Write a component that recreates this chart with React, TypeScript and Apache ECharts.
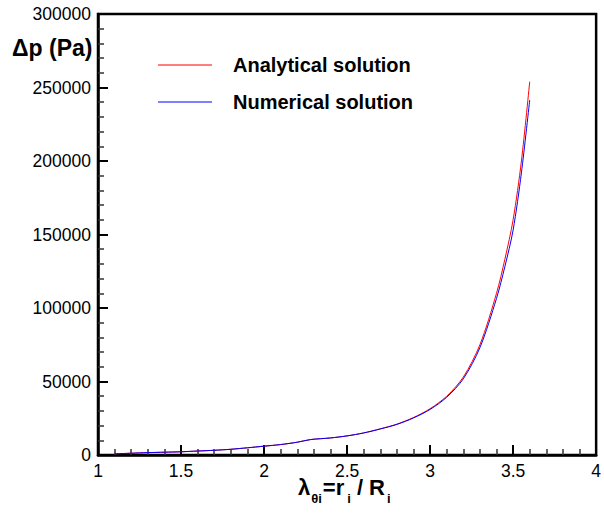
import React, { useEffect, useRef } from "react";
import * as echarts from "echarts";

const lambdaA = [1.1, 1.2, 1.3, 1.4, 1.5, 1.6, 1.7, 1.8, 1.9, 2.0, 2.1, 2.2, 2.28, 2.4, 2.5, 2.6, 2.7, 2.8, 2.9, 3.0, 3.1, 3.2, 3.3, 3.4, 3.45, 3.5, 3.55, 3.6];
const analytical = [800, 1200, 1600, 1900, 2200, 2700, 3200, 3900, 4900, 6000, 7100, 8700, 10500, 11600, 13000, 15000, 17800, 21000, 25500, 31500, 40000, 53000, 75000, 110000, 133000, 160000, 200000, 254000];
const numerical = [800, 1200, 1600, 1900, 2200, 2700, 3200, 3900, 4900, 6000, 7100, 8700, 10500, 11600, 13000, 15000, 17700, 20800, 25200, 31000, 39300, 51800, 73000, 106500, 128000, 153000, 192000, 241500];

const xTicks = { min: 1, max: 4, interval: 0.5 };
const yTicks = { min: 0, max: 300000, interval: 50000 };

const FONT = "'Liberation Sans', Arial, sans-serif";

export default function App() {
  const ref = useRef<HTMLDivElement>(null);
  useEffect(() => {
    if (!ref.current) return;
    const chart = echarts.init(ref.current, null, { renderer: "svg" });
    const axisCommon = {
      axisLine: { show: true, lineStyle: { color: "#000", width: 2.5 } },
      axisTick: { show: true, inside: true, length: 10, lineStyle: { color: "#000", width: 2 } },
      minorTick: { show: true, splitNumber: 5, length: 6, lineStyle: { color: "#333", width: 1.5 } },
      splitLine: { show: false },
      axisLabel: { color: "#000", fontSize: 17.5, fontFamily: FONT },
    };
    const mainFont = `bold 22px ${FONT}`;
    const subFont = `bold 13px ${FONT}`;
    const canvas = document.createElement("canvas");
    const ctx = canvas.getContext("2d")!;
    const w = (t: string, f: string) => {
      ctx.font = f;
      return ctx.measureText(t).width;
    };
    const parts: { t: string; sub: boolean; gapBefore: number }[] = [
      { t: "λ", sub: false, gapBefore: 0 },
      { t: "θi", sub: true, gapBefore: 1 },
      { t: "=r", sub: false, gapBefore: 1 },
      { t: "i", sub: true, gapBefore: 3 },
      { t: "/ R", sub: false, gapBefore: 6 },
      { t: "i", sub: true, gapBefore: 2 },
    ];
    let cx = 298;
    const nameEls: any[] = [];
    parts.forEach((p) => {
      const f = p.sub ? subFont : mainFont;
      cx += p.gapBefore;
      nameEls.push({
        type: "text",
        x: cx,
        y: p.sub ? 498 : 487,
        style: { text: p.t, fill: "#000", font: f, verticalAlign: "middle", align: "left" },
      });
      cx += w(p.t, f);
    });
    chart.setOption({
      animation: false,
      backgroundColor: "#fff",
      grid: { left: 98, right: 4, top: 14, bottom: 59, show: true, borderColor: "#000", borderWidth: 2.5 },
      xAxis: {
        type: "value",
        ...xTicks,
        ...axisCommon,
        axisLabel: { ...axisCommon.axisLabel, margin: 7, showMaxLabel: true, showMinLabel: true, formatter: (v: number) => String(v) },
      },
      yAxis: {
        type: "value",
        ...yTicks,
        ...axisCommon,
        axisLabel: { ...axisCommon.axisLabel, margin: 7, formatter: (v: number) => String(v) },
      },
      legend: {
        orient: "vertical",
        left: 158,
        top: 54,
        padding: 0,
        icon: "rect",
        itemWidth: 54,
        itemHeight: 1,
        itemGap: 15,
        textStyle: { color: "#000", fontSize: 20, fontWeight: "bold", fontFamily: FONT, padding: [0, 0, 0, 16], lineHeight: 22 },
        data: ["Analytical solution", "Numerical solution"],
      },
      graphic: [
        {
          type: "text",
          left: 12,
          top: 36,
          style: { text: "Δp (Pa)", fill: "#000", font: `bold 23px ${FONT}` },
        },
        ...nameEls,
      ],
      series: [
        {
          name: "Analytical solution",
          type: "line",
          data: lambdaA.map((x, i) => [x, analytical[i]]),
          symbol: "none",
          smooth: 0.3,
          lineStyle: { color: "#ff0000", width: 1 },
          itemStyle: { color: "#ff0000" },
        },
        {
          name: "Numerical solution",
          type: "line",
          data: lambdaA.map((x, i) => [x, numerical[i]]),
          symbol: "none",
          smooth: 0.3,
          lineStyle: { color: "#0000ff", width: 1 },
          itemStyle: { color: "#0000ff" },
        },
      ],
    });
    return () => chart.dispose();
  }, []);
  return <div ref={ref} style={{ width: 604, height: 514, position: "absolute", left: 0, top: 0 }} />;
}
